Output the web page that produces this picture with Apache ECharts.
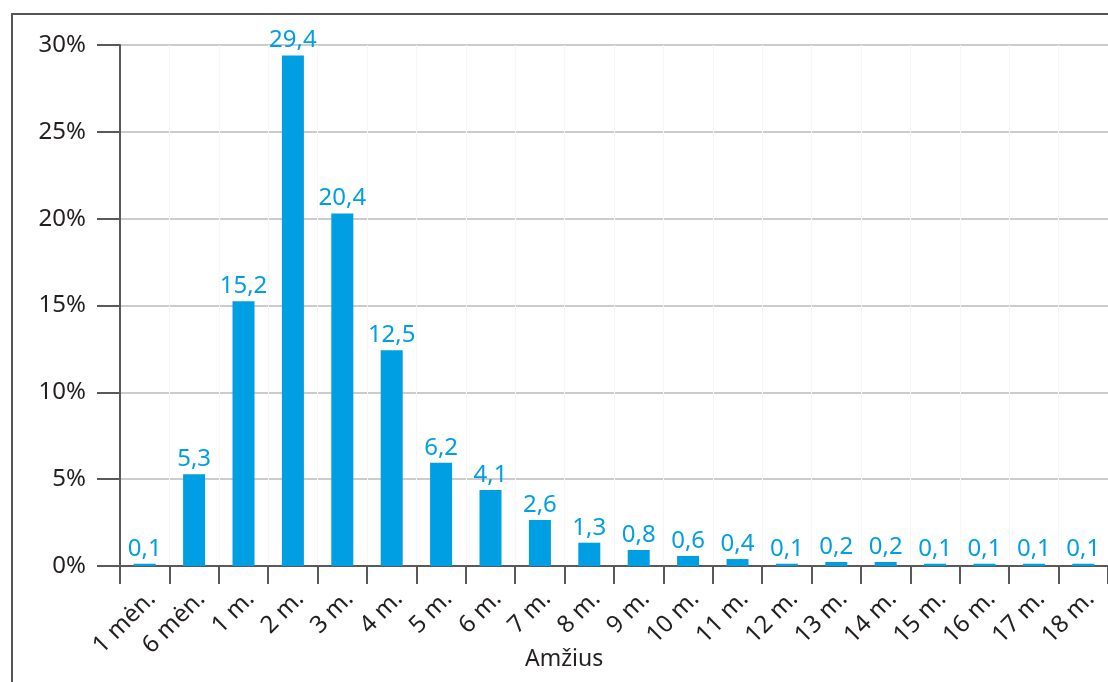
<!DOCTYPE html>
<html>
<head>
<meta charset="utf-8">
<script src="https://cdn.jsdelivr.net/npm/echarts@6/dist/echarts.min.js"></script>
<style>
  html, body { margin: 0; padding: 0; background: #fff; }
  #chart { width: 1108px; height: 682px; }
</style>
</head>
<body>
<div id="chart"></div>
<script>
const categories = ['1 mėn.', '6 mėn.', '1 m.', '2 m.', '3 m.', '4 m.', '5 m.', '6 m.', '7 m.', '8 m.', '9 m.', '10 m.', '11 m.', '12 m.', '13 m.', '14 m.', '15 m.', '16 m.', '17 m.', '18 m.'];
const barValues = [0.13, 5.29, 15.25, 29.4, 20.3, 12.43, 5.94, 4.37, 2.65, 1.34, 0.92, 0.58, 0.4, 0.13, 0.23, 0.23, 0.13, 0.13, 0.13, 0.13];
const labelTexts = ['0,1', '5,3', '15,2', '29,4', '20,4', '12,5', '6,2', '4,1', '2,6', '1,3', '0,8', '0,6', '0,4', '0,1', '0,2', '0,2', '0,1', '0,1', '0,1', '0,1'];
const yTicks = { min: 0, max: 30, interval: 5 };
const xAxisTitle = 'Amžius';

const FONT = '"Noto Sans", "DejaVu Sans", sans-serif';
const BLUE = '#009fe3';
const DARK = '#231f20';
const AXIS = '#58595b';

const chart = echarts.init(document.getElementById('chart'), null, { renderer: 'canvas' });
chart.setOption({
  backgroundColor: '#ffffff',
  animation: false,
  grid: { left: 120, right: 0, top: 45, bottom: 116, containLabel: false },
  graphic: [
    {
      type: 'rect',
      shape: { x: 12, y: 14, width: 1300, height: 900 },
      style: { fill: 'none', stroke: '#555555', lineWidth: 2 },
      silent: true
    },
    {
      type: 'text',
      left: 525,
      top: 648,
      style: { text: xAxisTitle, font: '23px ' + FONT, fill: DARK }
    }
  ],
  xAxis: {
    type: 'category',
    data: categories,
    boundaryGap: true,
    axisLine: { show: true, lineStyle: { color: AXIS, width: 2 } },
    axisTick: { show: true, length: 18, alignWithLabel: false, lineStyle: { color: AXIS, width: 2 } },
    splitLine: { show: true, lineStyle: { color: '#f7f7f7', width: 1 } },
    axisLabel: {
      interval: 0,
      rotate: 45,
      margin: 22,
      verticalAlign: 'top',
      lineHeight: 20,
      fontFamily: FONT,
      fontSize: 24,
      color: DARK
    }
  },
  yAxis: {
    type: 'value',
    min: yTicks.min,
    max: yTicks.max,
    interval: yTicks.interval,
    axisLine: { show: true, lineStyle: { color: AXIS, width: 2 } },
    axisTick: { show: true, length: 23, lineStyle: { color: AXIS, width: 2 } },
    splitLine: { show: true, lineStyle: { color: '#cccccc', width: 2 } },
    axisLabel: {
      formatter: '{value}%',
      margin: 34,
      fontFamily: FONT,
      fontSize: 24,
      color: DARK
    }
  },
  series: [{
    type: 'bar',
    data: barValues,
    barWidth: 22,
    itemStyle: { color: BLUE },
    label: {
      show: true,
      position: 'top',
      distance: 3,
      fontFamily: FONT,
      fontSize: 24,
      color: BLUE,
      formatter: (p) => labelTexts[p.dataIndex]
    }
  }]
});
</script>
</body>
</html>
